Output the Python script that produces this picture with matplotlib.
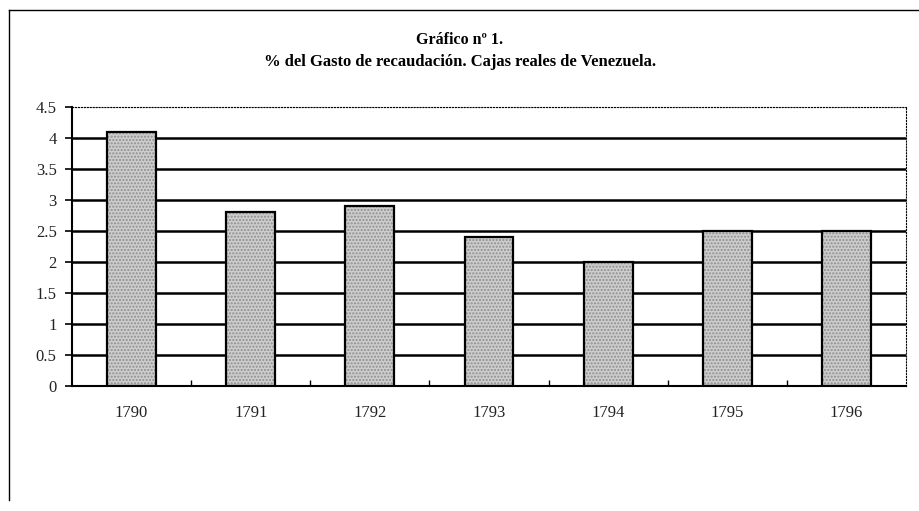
import numpy as np
import matplotlib.pyplot as plt
from matplotlib.lines import Line2D

years = ['1790', '1791', '1792', '1793', '1794', '1795', '1796']
gasto = [4.1, 2.8, 2.9, 2.4, 2.0, 2.5, 2.5]
yticks = [0, 0.5, 1, 1.5, 2, 2.5, 3, 3.5, 4, 4.5]
ylabels = ['0', '0.5', '1', '1.5', '2', '2.5', '3', '3.5', '4', '4.5']

plt.rcParams['font.family'] = ['Liberation Serif', 'DejaVu Serif']

fig = plt.figure(figsize=(9.2, 5.11), dpi=100)
ax = fig.add_axes([72/920, 1 - 386/511, 834/920, 279/511])

x = np.arange(len(years))
for y in yticks[1:-1]:
    ax.axhline(y, color='black', lw=1.8, zorder=1)
ax.axhline(4.5, color='black', lw=0.8, ls=':', zorder=1)

ax.bar(x, gasto, width=0.41, color='#cdcdcd', hatch='.....', edgecolor='#8e8e8e',
       lw=0, zorder=2)
ax.bar(x, gasto, width=0.41, color='none', edgecolor='black', lw=1.6, zorder=3)

ax.set_xlim(-0.5, 6.5)
ax.set_ylim(0, 4.5)
ax.set_yticks(yticks)
ax.set_yticklabels(ylabels)
ax.set_xticks(x)
ax.set_xticklabels(years)
ax.set_xticks(np.arange(0.5, 6, 1), minor=True)
ax.tick_params(axis='x', which='major', length=0, pad=14, labelsize=12, labelcolor='#222222')
ax.tick_params(axis='x', which='minor', length=4, direction='in', width=1)
ax.tick_params(axis='y', length=5, direction='out', width=1.2, pad=6, labelsize=12,
               colors='black', labelcolor='#222222')

for s in ['top', 'right']:
    ax.spines[s].set_linestyle(':')
    ax.spines[s].set_linewidth(0.8)
ax.spines['left'].set_linewidth(1.5)
ax.spines['bottom'].set_linewidth(1.5)

fig.text(0.5, 1 - 40/511, 'Gráfico nº 1.', ha='center', va='center',
         fontsize=11.5, fontweight='bold')
fig.text(0.5, 1 - 62/511, '% del Gasto de recaudación. Cajas reales de Venezuela.',
         ha='center', va='center', fontsize=12, fontweight='bold')

# page frame lines
fig.add_artist(Line2D([9/920, 1], [1 - 10/511, 1 - 10/511], color='black', lw=1))
fig.add_artist(Line2D([9/920, 9/920], [1 - 10/511, 1 - 500/511], color='black', lw=1))

fig.savefig('out.png', dpi=100)
